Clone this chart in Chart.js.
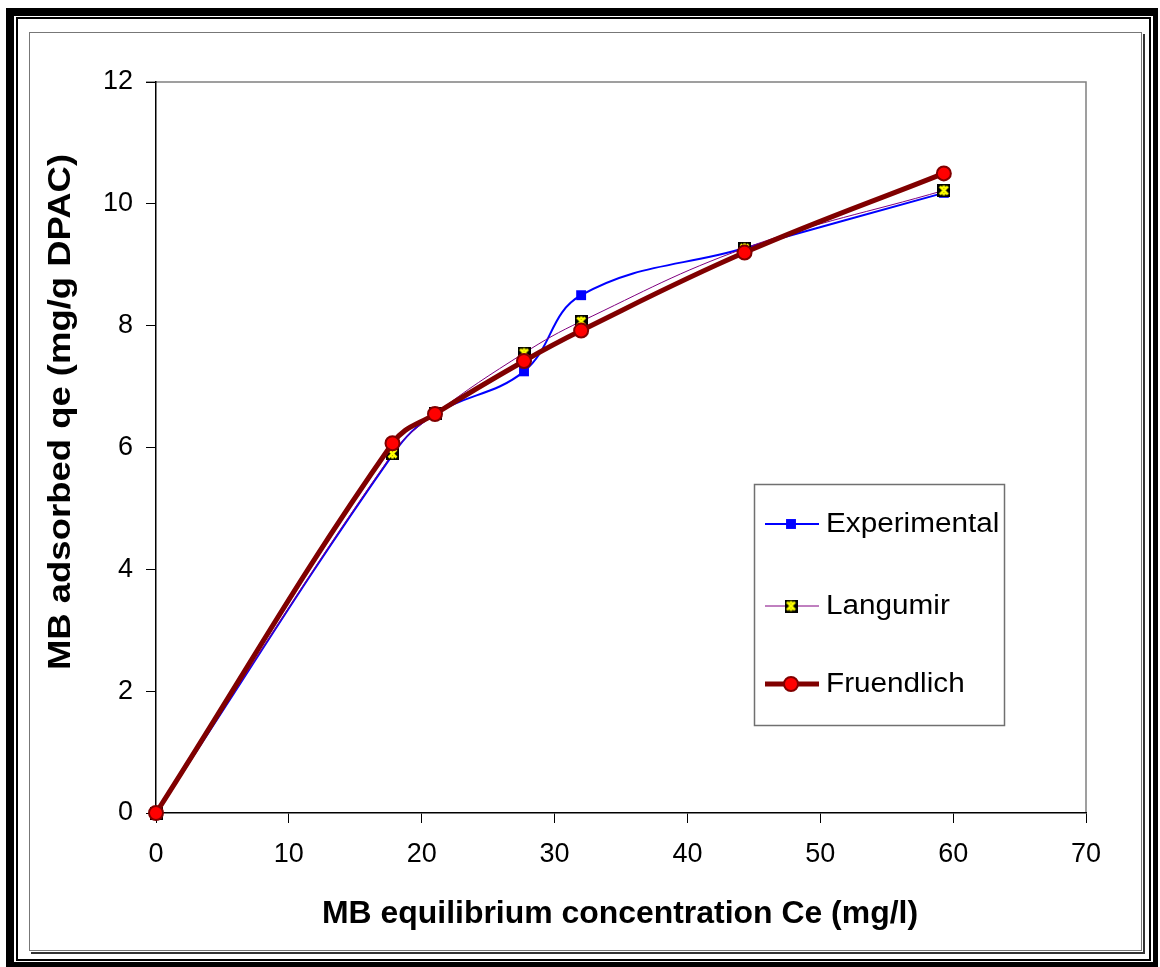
<!DOCTYPE html>
<html>
<head>
<meta charset="utf-8">
<script src="https://cdn.jsdelivr.net/npm/chart.js@4.4.1/dist/chart.umd.min.js"></script>
<style>
    body { margin: 0; background: #fff; }
    canvas { display: block; }
</style>
</head>
<body>
<canvas id="chart" width="1160" height="967"></canvas>
<script>
// MB equilibrium concentration Ce (mg/l)
const ceValues = [0, 17.8, 21, 27.7, 32, 44.3, 59.3];
const experimental = [0, 5.88, 6.55, 7.25, 8.5, 9.27, 10.18];
const langmuir = [0, 5.9, 6.55, 7.55, 8.07, 9.27, 10.22];
const freundlich = [0, 6.07, 6.55, 7.42, 7.92, 9.2, 10.5];

const seriesNames = ['Experimental', 'Langumir', 'Fruendlich'];
const xTickValues = [0, 10, 20, 30, 40, 50, 60, 70];
const yTickValues = [0, 2, 4, 6, 8, 10, 12];

const xTitle = 'MB equilibrium concentration Ce (mg/l)';
const yTitle = 'MB adsorbed qe (mg/g DPAC)';

const FONT = '"Liberation Sans", Arial, sans-serif';

function toPoints(ys) {
    return ceValues.map((x, i) => ({ x, y: ys[i] }));
}

// black square with a yellow cross, like the excel marker
function starMarker() {
    const c = document.createElement('canvas');
    c.width = 13;
    c.height = 13;
    const g = c.getContext('2d');
    g.fillStyle = '#000';
    g.fillRect(0, 0, 13, 13);
    g.strokeStyle = '#ffff00';
    g.lineWidth = 2.6;
    g.beginPath();
    g.moveTo(2.5, 2.5); g.lineTo(10.5, 10.5);
    g.moveTo(10.5, 2.5); g.lineTo(2.5, 10.5);
    g.moveTo(6.5, 1.5); g.lineTo(6.5, 4);
    g.moveTo(6.5, 9); g.lineTo(6.5, 11.5);
    g.stroke();
    return c;
}

// text stretched a bit wider, the way the original export looks
function wideText(ctx, text, x, y, sx) {
    ctx.save();
    ctx.translate(x, y);
    ctx.scale(sx, 1);
    ctx.fillText(text, 0, 0);
    ctx.restore();
}

const frame = {
    id: 'frame',
    beforeDraw(chart) {
        const ctx = chart.ctx;
        ctx.save();
        ctx.fillStyle = '#fff';
        ctx.fillRect(0, 0, chart.width, chart.height);

        // outer double border
        ctx.fillStyle = '#000';
        ctx.fillRect(6, 8, 1152, 959);
        ctx.fillStyle = '#fff';
        ctx.fillRect(14, 16, 1139, 946);
        ctx.strokeStyle = '#000';
        ctx.lineWidth = 2;
        ctx.strokeRect(17, 18, 1133, 942);
        ctx.fillStyle = '#fff';
        ctx.fillRect(18, 19, 1131, 940);

        // inner chart border with a small shadow
        ctx.strokeStyle = '#333';
        ctx.lineWidth = 2;
        ctx.beginPath();
        ctx.moveTo(31, 953); ctx.lineTo(1144, 953); ctx.lineTo(1144, 34);
        ctx.stroke();
        ctx.strokeStyle = '#777';
        ctx.lineWidth = 1;
        ctx.strokeRect(29.5, 32.5, 1112, 918);

        // plot area outline (top + right in gray)
        const a = chart.chartArea;
        ctx.strokeStyle = '#808080';
        ctx.lineWidth = 1.5;
        ctx.beginPath();
        ctx.moveTo(a.left - 10, a.top);
        ctx.lineTo(a.right, a.top);
        ctx.lineTo(a.right, a.bottom);
        ctx.stroke();
        ctx.restore();
    },
    afterDraw(chart) {
        const ctx = chart.ctx;
        ctx.save();
        ctx.fillStyle = '#000';
        ctx.font = 'bold 31px ' + FONT;
        ctx.textAlign = 'center';
        ctx.textBaseline = 'middle';
        wideText(ctx, xTitle, 620, 914, 1.03);

        ctx.translate(61, 412);
        ctx.rotate(-Math.PI / 2);
        ctx.font = 'bold 32px ' + FONT;
        wideText(ctx, yTitle, 0, 0, 1.14);
        ctx.restore();

        this.drawLegend(chart);
    },
    drawLegend(chart) {
        const ctx = chart.ctx;
        const box = { x: 754.5, y: 484.5, w: 250, h: 241 };
        const rows = [524, 606, 684];
        ctx.save();
        ctx.fillStyle = '#fff';
        ctx.fillRect(box.x, box.y, box.w, box.h);
        ctx.strokeStyle = '#707070';
        ctx.lineWidth = 1.5;
        ctx.strokeRect(box.x, box.y, box.w, box.h);

        chart.data.datasets.forEach((ds, i) => {
            const y = rows[i];
            ctx.strokeStyle = ds.borderColor;
            ctx.lineWidth = ds.borderWidth;
            ctx.beginPath();
            ctx.moveTo(765, y);
            ctx.lineTo(819, y);
            ctx.stroke();

            if (typeof ds.pointStyle === 'string') {
                ctx.fillStyle = ds.pointBackgroundColor;
                ctx.strokeStyle = ds.pointBorderColor;
                ctx.lineWidth = ds.pointBorderWidth;
                ctx.beginPath();
                if (ds.pointStyle === 'circle') {
                    ctx.arc(791, y, ds.pointRadius, 0, Math.PI * 2);
                } else {
                    const s = Math.SQRT1_2 * ds.pointRadius;
                    ctx.rect(791 - s, y - s, 2 * s, 2 * s);
                }
                ctx.fill();
                if (ds.pointBorderWidth) ctx.stroke();
            } else {
                const img = ds.pointStyle;
                ctx.drawImage(img, 791 - img.width / 2, y - img.height / 2);
            }

            ctx.fillStyle = '#000';
            ctx.font = '27px ' + FONT;
            ctx.textAlign = 'left';
            ctx.textBaseline = 'middle';
            wideText(ctx, ds.label, 826, y + 1, 1.1);
        });
        ctx.restore();
    }
};

const datasets = [
    {
        label: seriesNames[0],
        data: toPoints(experimental),
        borderColor: '#0000ff',
        borderWidth: 2,
        pointStyle: 'rect',
        pointRadius: 7,
        pointBackgroundColor: '#0000ff',
        pointBorderColor: '#0000ff',
        pointBorderWidth: 0,
        tension: 0.4,
        order: 3
    },
    {
        label: seriesNames[1],
        data: toPoints(langmuir),
        borderColor: '#800080',
        borderWidth: 1,
        pointStyle: starMarker(),
        pointRadius: 6,
        pointBackgroundColor: '#ffff00',
        pointBorderColor: '#000',
        pointBorderWidth: 0,
        tension: 0.4,
        order: 2
    },
    {
        label: seriesNames[2],
        data: toPoints(freundlich),
        borderColor: '#800000',
        borderWidth: 5,
        pointStyle: 'circle',
        pointRadius: 7,
        pointBackgroundColor: '#ff0000',
        pointBorderColor: '#800000',
        pointBorderWidth: 2,
        tension: 0.4,
        order: 1
    }
];
datasets.forEach(ds => {
    ds.showLine = true;
    ds.clip = false;
    ds.pointHoverRadius = ds.pointRadius;
});

new Chart(document.getElementById('chart'), {
    type: 'scatter',
    data: { datasets },
    plugins: [frame],
    options: {
        responsive: false,
        animation: false,
        events: [],
        layout: { padding: { left: 0, top: 82, right: 74, bottom: 0 } },
        plugins: {
            legend: { display: false },
            tooltip: { enabled: false }
        },
        scales: {
            x: {
                type: 'linear',
                min: 0,
                max: 70,
                afterFit: s => { s.height = 154; },
                afterBuildTicks: s => { s.ticks = xTickValues.map(value => ({ value })); },
                grid: {
                    drawOnChartArea: false,
                    tickLength: 10,
                    tickColor: '#000'
                },
                border: { color: '#000', width: 1.5 },
                ticks: {
                    padding: 15,
                    color: '#000',
                    font: { family: FONT, size: 27 },
                    maxRotation: 0
                }
            },
            y: {
                type: 'linear',
                min: 0,
                max: 12,
                afterFit: s => { s.width = 156; },
                afterBuildTicks: s => { s.ticks = yTickValues.map(value => ({ value })); },
                grid: {
                    drawOnChartArea: false,
                    tickLength: 10,
                    tickColor: '#000'
                },
                border: { color: '#000', width: 1.5 },
                ticks: {
                    padding: 13,
                    color: '#000',
                    font: { family: FONT, size: 27 }
                }
            }
        }
    }
});
</script>
</body>
</html>
